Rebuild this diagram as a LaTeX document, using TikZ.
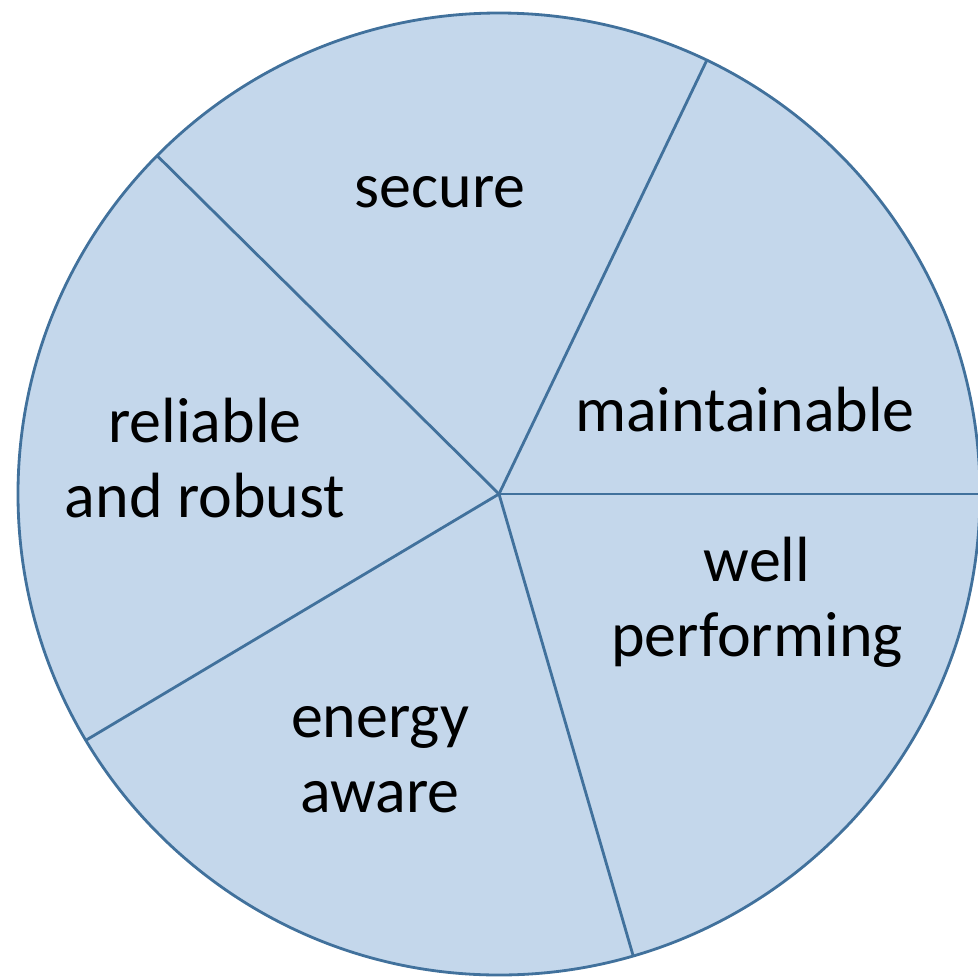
\documentclass[tikz,border=0pt]{standalone}
\usepackage{fontspec}
\setmainfont{Carlito}
\usepackage{tikz}

\definecolor{pieFill}{RGB}{196,215,235}
\definecolor{pieLine}{RGB}{65,113,156}

\begin{document}
\begin{tikzpicture}[every node/.style={font=\fontsize{18.2}{21.3}\selectfont, align=center}]
\useasboundingbox (0,0) rectangle (9.78,-9.78);

% Pie disc
\coordinate (centre) at (4.99,-4.94);
\draw[fill=pieFill, draw=pieLine, line width=0.8pt] (centre) circle (4.81);

% Spokes
\foreach \ang in {64.4, 0, -73.8, -149.2, 135.3} {
  \draw[pieLine, line width=0.8pt] (centre) -- ++(\ang:4.81);
}

% Labels
\node (secure) at (4.40,-1.92) {secure};
\node (maintainable) at (7.45,-4.10) {maintainable};
\node (reliable) at (2.05,-4.58) {reliable\\and robust};
\node (performing) at (7.57,-6.02) {well\\performing};
\node (energy) at (3.80,-7.60) {energy\\aware};

\end{tikzpicture}
\end{document}
